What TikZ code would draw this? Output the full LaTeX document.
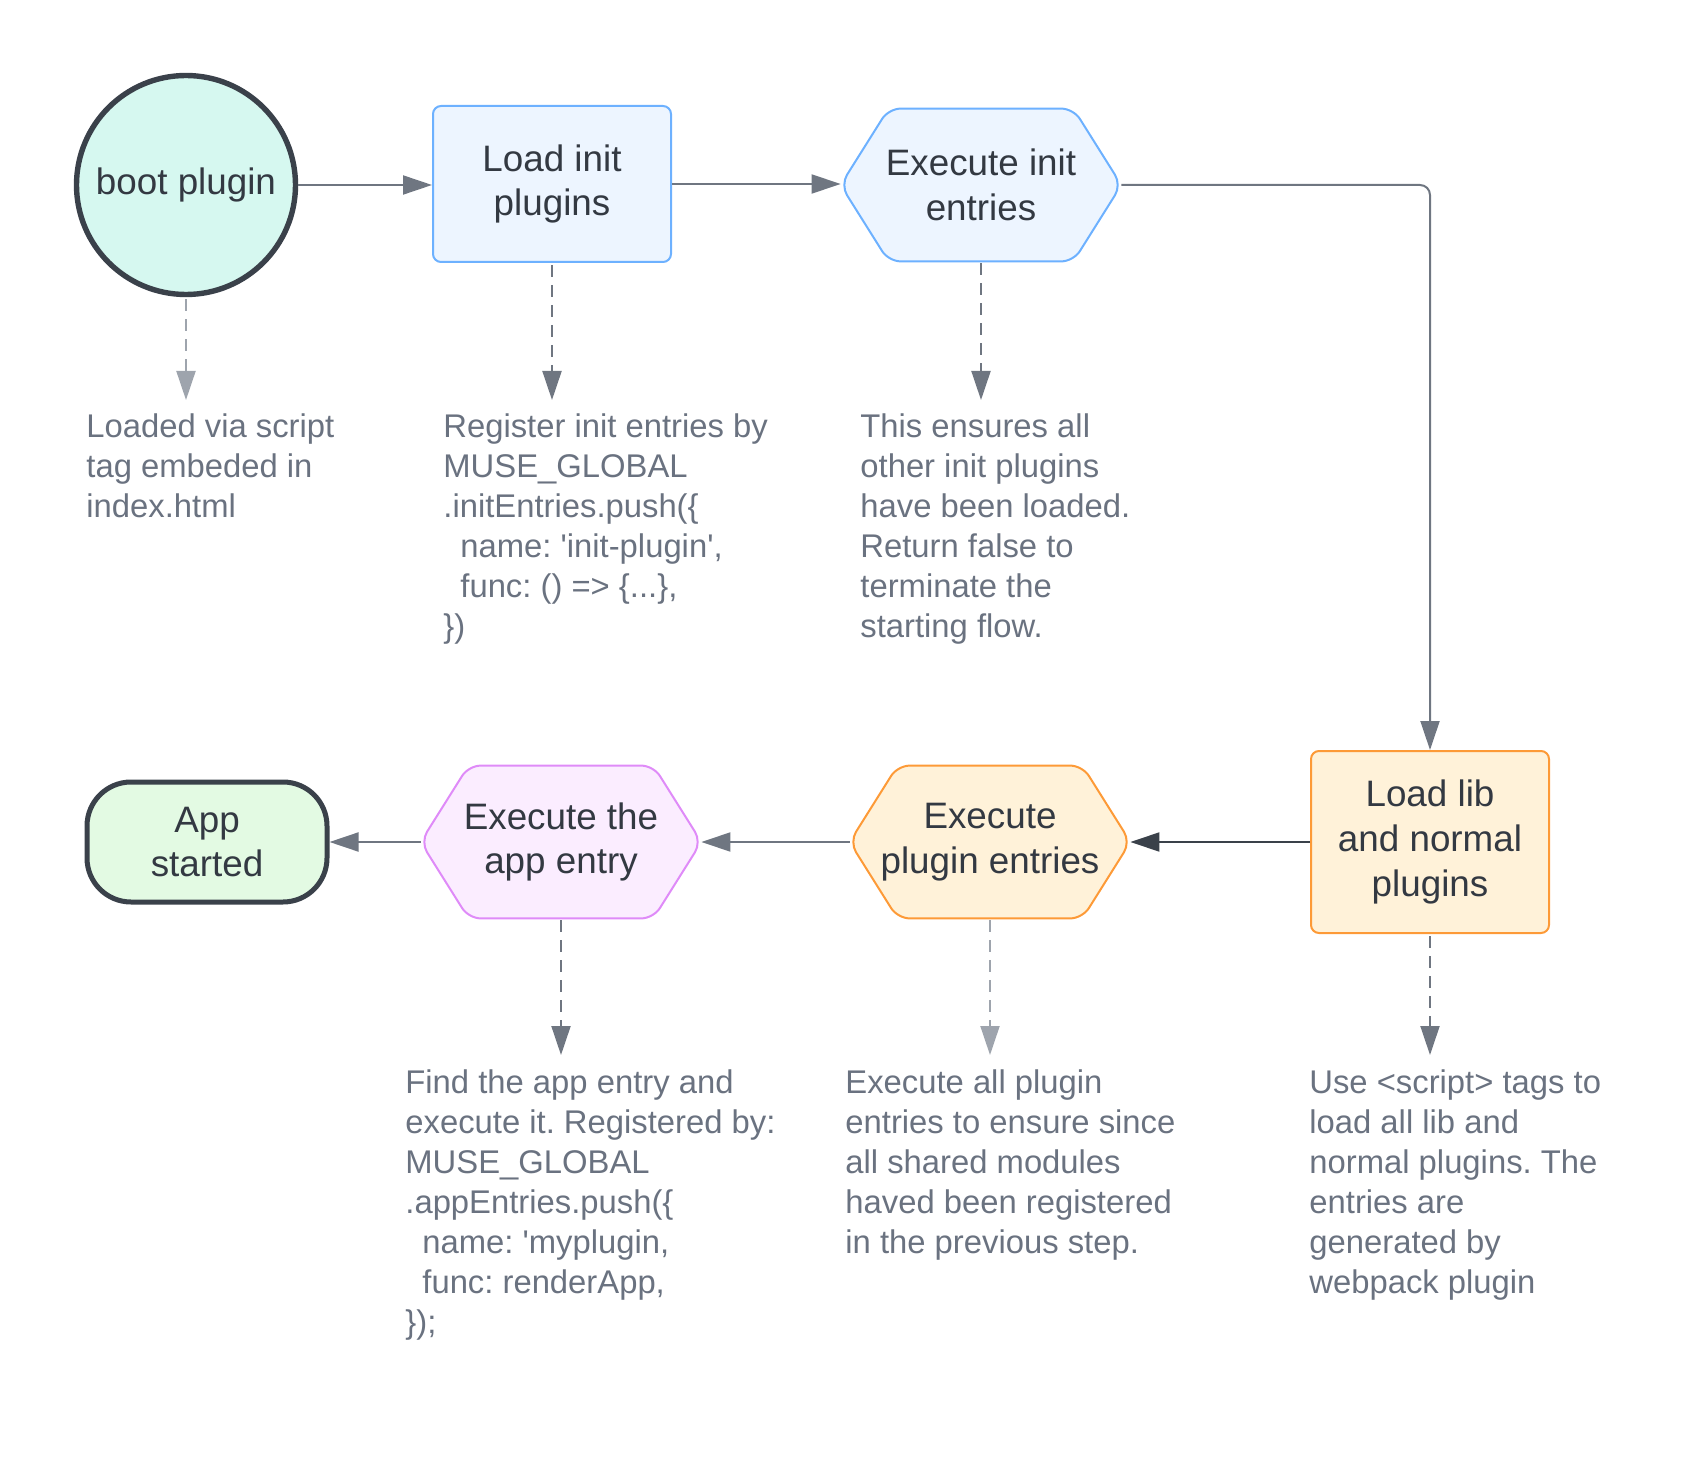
\documentclass[tikz,border=0pt]{standalone}
\usepackage{fontspec}
\setmainfont{Liberation Sans}
\usepackage{tikz}
\usetikzlibrary{arrows.meta, backgrounds}
\frenchspacing

\definecolor{labeltext}{HTML}{333942}
\definecolor{notegray}{HTML}{6A7280}
\definecolor{linegray}{HTML}{6F7681}
\definecolor{lightline}{HTML}{9EA4AD}
\definecolor{darkline}{HTML}{3A414A}
\definecolor{bootfill}{HTML}{D6F8F0}
\definecolor{initfill}{HTML}{EDF5FF}
\definecolor{initline}{HTML}{6DB1FF}
\definecolor{libfill}{HTML}{FFF2D9}
\definecolor{libline}{HTML}{FD9A37}
\definecolor{appfill}{HTML}{FBEDFF}
\definecolor{appline}{HTML}{DF8BF8}
\definecolor{donefill}{HTML}{E3FAE3}

\newcommand{\boxfont}{\fontsize{18.4pt}{22.4pt}\selectfont}
\newcommand{\notefont}{\fontsize{16.4pt}{20pt}\selectfont}

\begin{document}
\begin{tikzpicture}[x=0.5pt, y=-0.5pt]
	\tikzstyle{flow}=[draw=linegray, line width=1pt, -{Triangle[length=14.5pt, width=9.5pt]}]
	\tikzstyle{hint}=[flow, dash pattern=on 6pt off 4pt]
	\tikzstyle{box}=[rectangle, rounded corners=4pt, line width=1pt, minimum width=119pt, text=labeltext, font=\boxfont, align=center]
	\tikzstyle{hexa}=[rectangle, minimum width=140pt, minimum height=76pt, inner sep=0pt, text=labeltext, font=\boxfont, align=center]
	\tikzstyle{note}=[anchor=north west, inner sep=0pt, align=left, text=notegray, font=\notefont]
	\useasboundingbox (0,0) rectangle (1691,1470);

	\node[circle, minimum size=109.5pt, line width=2.7pt, draw=darkline, fill=bootfill, text=labeltext, font=\boxfont] (boot) at (186,185) {boot plugin};
	\node[box, fill=initfill, draw=initline, minimum height=78pt] (loadinit) at (552,184) {Load init\\plugins};
	\node[hexa] (execinit) at (981,185) {Execute init\\entries};
	\node[box, fill=libfill, draw=libline, minimum height=91pt] (loadlib) at (1430,842) {Load lib\\and normal\\plugins};
	\node[hexa] (execplug) at (990,842) {Execute\\plugin entries};
	\node[hexa] (execapp) at (561,842) {Execute the\\app entry};
	\node[rectangle, rounded corners=22pt, minimum width=120pt, minimum height=60pt, line width=2.5pt, draw=darkline, fill=donefill, text=labeltext, font=\boxfont, align=center] (appstarted) at (207,842) {App\\started};

	\begin{scope}[on background layer]
		\foreach \n/\f/\d in {execinit/initfill/initline, execplug/libfill/libline, execapp/appfill/appline}
			\draw[fill=\f, draw=\d, line width=1pt, rounded corners=6pt] (\n.west) -- ([xshift=24pt]\n.north west) -- ([xshift=-24pt]\n.north east) -- (\n.east) -- ([xshift=-24pt]\n.south east) -- ([xshift=24pt]\n.south west) -- cycle;
	\end{scope}

	\node[note] (bootnote) at (86,413) {Loaded via script\\tag embeded in\\index.html};
	\node[note] (loadinitnote) at (443,413) {Register init entries by\\MUSE\_GLOBAL\\.initEntries.push(\{\\\hspace*{8.5pt}name: \textquotesingle init-plugin\textquotesingle,\\\hspace*{8.5pt}func: () => \{...\},\\\})};
	\node[note] (execinitnote) at (860,413) {This ensures all\\other init plugins\\have been loaded.\\Return false to\\terminate the\\starting flow.};
	\node[note] (execappnote) at (405,1069) {Find the app entry and\\execute it. Registered by:\\MUSE\_GLOBAL\\.appEntries.push(\{\\\hspace*{8.5pt}name: \textquotesingle myplugin,\\\hspace*{8.5pt}func: renderApp,\\\});};
	\node[note] (execplugnote) at (845,1069) {Execute all plugin\\entries to ensure since\\all shared modules\\haved been registered\\in the previous step.};
	\node[note] (loadlibnote) at (1309,1069) {Use <script> tags to\\load all lib and\\normal plugins. The\\entries are\\generated by\\webpack plugin};

	\draw[flow] (boot.east) -- (boot.east -| loadinit.west);
	\draw[flow] (loadinit.east) -- (loadinit.east -| execinit.west);
	\draw[flow, rounded corners=5pt] (execinit.east) -| (loadlib.north);
	\draw[flow, draw=darkline] (loadlib.west) -- (loadlib.west -| execplug.east);
	\draw[flow] (execplug.west) -- (execapp.east);
	\draw[flow] (execapp.west) -- (appstarted.east);

	\coordinate (toprow) at (0,400);
	\coordinate (botrow) at (0,1055);
	\draw[hint, draw=lightline] ([yshift=-1pt]boot.south) -- (boot.south |- toprow);
	\foreach \n in {loadinit, execinit}
		\draw[hint] ([yshift=-1pt]\n.south) -- (\n.south |- toprow);
	\foreach \n in {execapp, loadlib}
		\draw[hint] ([yshift=-1pt]\n.south) -- (\n.south |- botrow);
	\draw[hint, draw=lightline] ([yshift=-1pt]execplug.south) -- (execplug.south |- botrow);
\end{tikzpicture}
\end{document}
